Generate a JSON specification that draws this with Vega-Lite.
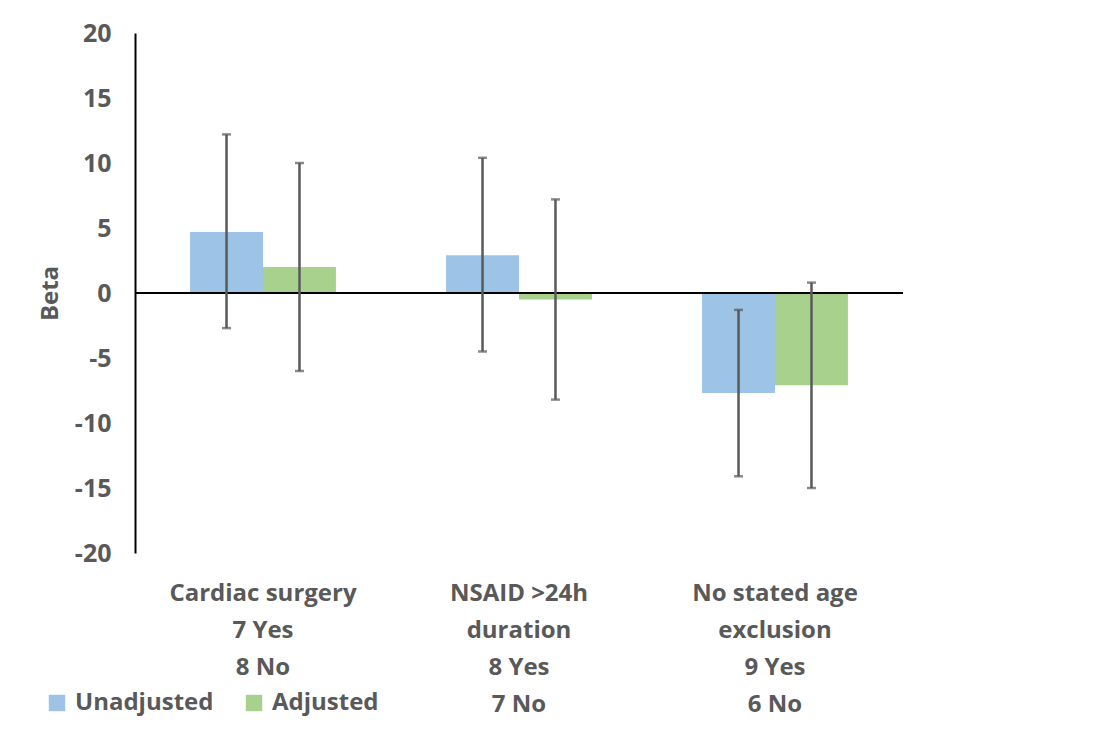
{
  "$schema": "https://vega.github.io/schema/vega-lite/v6.json",
  "width": 768,
  "height": 520,
  "autosize": {"type": "none"},
  "padding": {"left": 135, "top": 33, "right": 204, "bottom": 179},
  "background": "white",
  "config": {
    "view": {"stroke": null},
    "font": "Open Sans"
  },
  "data": {
    "values": [
      {"category": "Cardiac surgery|7 Yes|8 No", "series": "Unadjusted", "beta": 4.7, "lo": -2.7, "hi": 12.2},
      {"category": "Cardiac surgery|7 Yes|8 No", "series": "Adjusted", "beta": 2.0, "lo": -6.0, "hi": 10.0},
      {"category": "NSAID >24h|duration|8 Yes|7 No", "series": "Unadjusted", "beta": 2.9, "lo": -4.5, "hi": 10.4},
      {"category": "NSAID >24h|duration|8 Yes|7 No", "series": "Adjusted", "beta": -0.5, "lo": -8.2, "hi": 7.2},
      {"category": "No stated age|exclusion|9 Yes|6 No", "series": "Unadjusted", "beta": -7.7, "lo": -14.1, "hi": -1.3},
      {"category": "No stated age|exclusion|9 Yes|6 No", "series": "Adjusted", "beta": -7.1, "lo": -15.0, "hi": 0.8}
    ]
  },
  "encoding": {
    "x": {
      "field": "category", "type": "nominal", "sort": null,
      "scale": {"paddingInner": 0.43, "paddingOuter": 0.215},
      "axis": {
        "title": null, "domain": false, "ticks": false, "labelAngle": 0,
        "labelExpr": "split(datum.label, '|')", "labelLimit": 400,
        "labelFontSize": 24, "labelFontWeight": "bold", "labelColor": "#595959",
        "labelBaseline": "top", "labelPadding": 28, "labelLineHeight": 37
      }
    },
    "xOffset": {"field": "series", "type": "nominal", "sort": ["Unadjusted", "Adjusted"], "scale": {"paddingInner": 0, "paddingOuter": 0}}
  },
  "layer": [
    {
      "mark": {"type": "bar"},
      "encoding": {
        "y": {
          "field": "beta", "type": "quantitative",
          "scale": {"domain": [-20, 20], "nice": false, "zero": false},
          "axis": {
            "title": "Beta", "values": [-20, -15, -10, -5, 0, 5, 10, 15, 20],
            "labelExpr": "toString(datum.value)",
            "grid": false, "ticks": false, "tickSize": 0, "labelPadding": 24,
            "labelFontSize": 25, "labelFontWeight": "bold", "labelColor": "#595959",
            "domainColor": "#000000", "domainWidth": 2,
            "titleFontSize": 24, "titleFontWeight": "bold", "titleColor": "#595959", "titlePadding": 12
          }
        },
        "y2": {"datum": 0},
        "color": {
          "field": "series", "type": "nominal",
          "scale": {"domain": ["Unadjusted", "Adjusted"], "range": ["#9DC3E6", "#A9D18E"]},
          "legend": {
            "title": null, "orient": "none", "legendX": -90, "legendY": 658,
            "direction": "horizontal", "symbolType": "square", "symbolSize": 270,
            "symbolStrokeWidth": 0, "labelFontSize": 24, "labelFontWeight": "bold",
            "labelColor": "#595959", "columnPadding": 28, "labelOffset": 6
          }
        }
      }
    },
    {
      "mark": {"type": "rule", "color": "#000000", "strokeWidth": 2},
      "encoding": {"y": {"datum": 0}, "xOffset": null, "x": null}
    },
    {
      "mark": {"type": "rule", "color": "#595959", "strokeWidth": 2.5},
      "encoding": {
        "y": {"field": "lo", "type": "quantitative"},
        "y2": {"field": "hi"}
      }
    },
    {
      "mark": {"type": "tick", "color": "#595959", "thickness": 2.5, "size": 9, "orient": "horizontal"},
      "encoding": {"y": {"field": "lo", "type": "quantitative"}}
    },
    {
      "mark": {"type": "tick", "color": "#595959", "thickness": 2.5, "size": 9, "orient": "horizontal"},
      "encoding": {"y": {"field": "hi", "type": "quantitative"}}
    }
  ]
}
